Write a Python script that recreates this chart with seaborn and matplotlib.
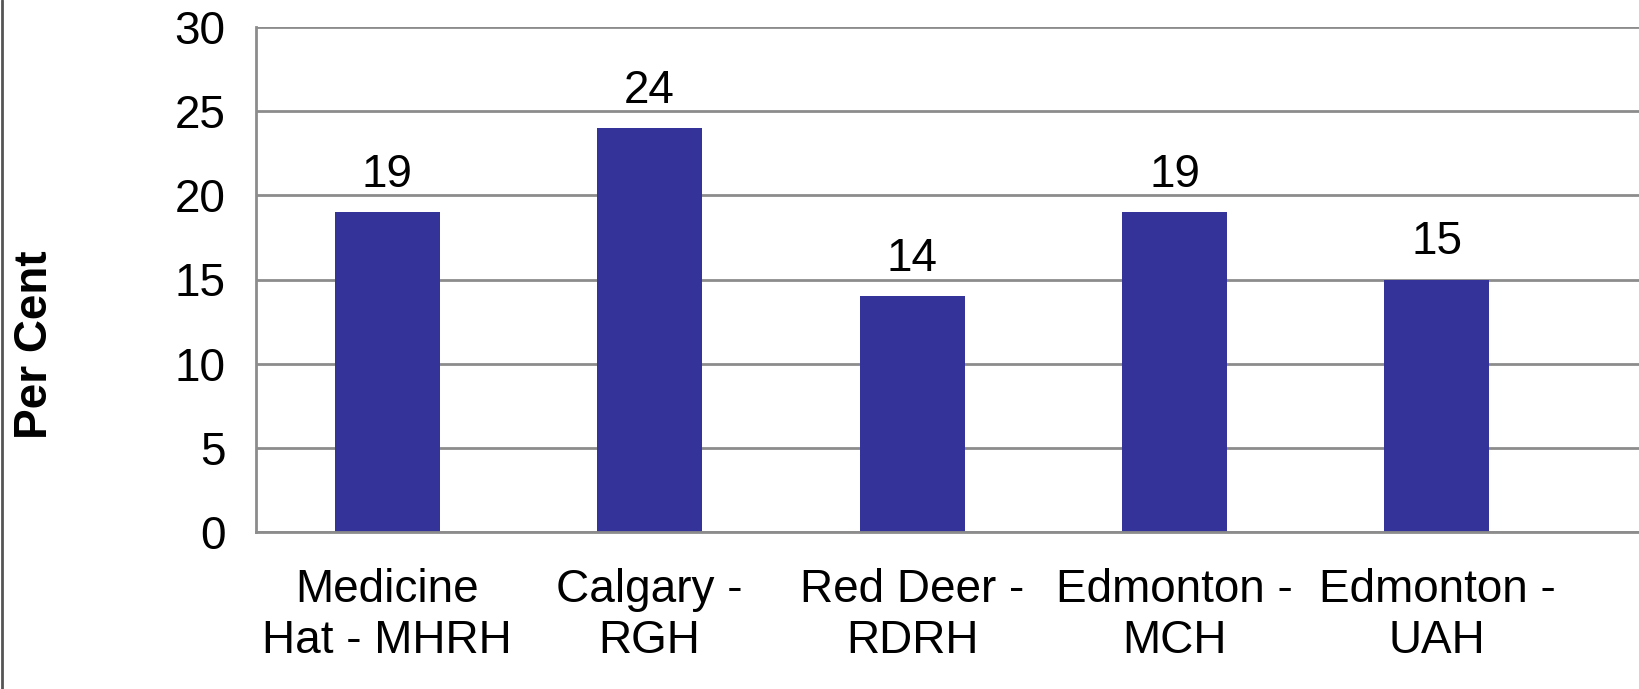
import seaborn as sns
import matplotlib.pyplot as plt
import matplotlib.lines as mlines
import pandas as pd

hospitals = ["Medicine\nHat - MHRH", "Calgary -\nRGH", "Red Deer -\nRDRH",
             "Edmonton -\nMCH", "Edmonton -\nUAH"]
per_cent = [19, 24, 14, 19, 15]
y_ticks = [0, 5, 10, 15, 20, 25, 30]

df = pd.DataFrame({"hospital": hospitals, "per_cent": per_cent})

sns.set_style("white")
plt.rcParams["font.family"] = ["Liberation Sans", "DejaVu Sans"]
plt.rcParams["text.color"] = "black"
plt.rcParams["xtick.color"] = "black"
plt.rcParams["ytick.color"] = "black"
plt.rcParams["axes.labelcolor"] = "black"

W, H = 1639, 689
fig = plt.figure(figsize=(W / 100, H / 100), dpi=100)
ax = fig.add_axes([256 / W, 1 - 532 / H, (W - 256) / W, 505 / H])

sns.barplot(data=df, x="hospital", y="per_cent", color="#333399",
            width=0.4, saturation=1, linewidth=0, ax=ax)

ax.set_ylim(0, 30)
ax.set_xlim(-0.5, 4.77)
ax.set_yticks(y_ticks)
ax.yaxis.grid(True, color="#8c8c8c", linewidth=2)
ax.set_axisbelow(True)

for s in ["top", "right"]:
    ax.spines[s].set_visible(False)
for s in ["left", "bottom"]:
    ax.spines[s].set_color("#8c8c8c")
    ax.spines[s].set_linewidth(2)

ax.tick_params(axis="y", labelsize=33, length=0, pad=22)
ax.tick_params(axis="x", labelsize=33, length=0, pad=26)
for lbl in ax.get_xticklabels():
    lbl.set_linespacing(1.2)

ax.set_xlabel("")
ax.set_ylabel("Per Cent", fontsize=33, fontweight="bold")
ax.yaxis.set_label_coords((57 - 256) / (W - 256), 0.37)

for i, v in enumerate(per_cent):
    ax.text(i, v + 0.9, str(v), ha="center", va="bottom", fontsize=33)

fig.add_artist(mlines.Line2D([0.001, 0.001], [0, 1], color="#555555",
                             linewidth=2, transform=fig.transFigure))

fig.savefig("out.png", dpi=100)
